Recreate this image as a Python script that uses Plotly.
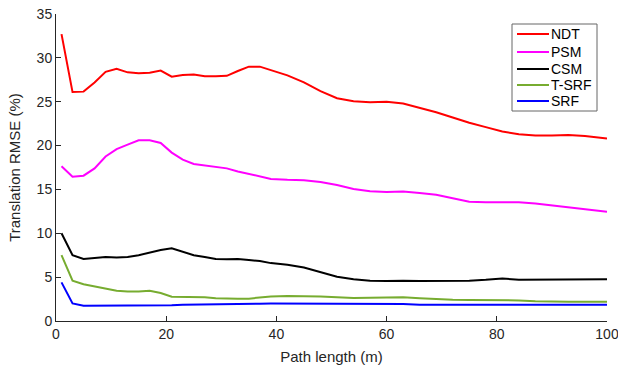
import plotly.graph_objects as go

x = [1, 3, 5, 7, 9, 11, 13, 15, 17, 19, 21, 23, 25, 27, 29, 31, 33, 35, 37, 39,
     42, 45, 48, 51, 54, 57, 60, 63, 66, 69, 72, 75, 78, 81, 84, 87, 90, 93, 96, 100]

ndt = [32.7, 26.1, 26.15, 27.2, 28.4, 28.75, 28.35, 28.25, 28.3, 28.55, 27.85, 28.05, 28.1, 27.9, 27.9, 27.95, 28.5, 29.0, 29.0, 28.6,
       28.0, 27.2, 26.2, 25.4, 25.05, 24.95, 25.0, 24.8, 24.3, 23.8, 23.2, 22.6, 22.1, 21.6, 21.3, 21.15, 21.15, 21.2, 21.1, 20.8]
psm = [17.65, 16.45, 16.57, 17.4, 18.75, 19.6, 20.1, 20.6, 20.6, 20.3, 19.2, 18.4, 17.9, 17.75, 17.55, 17.4, 17.05, 16.75, 16.5, 16.2,
       16.1, 16.05, 15.85, 15.5, 15.05, 14.8, 14.7, 14.75, 14.6, 14.4, 14.0, 13.6, 13.55, 13.55, 13.55, 13.4, 13.2, 12.95, 12.8, 12.45]
csm = [10.0, 7.5, 7.07, 7.15, 7.3, 7.25, 7.3, 7.5, 7.8, 8.1, 8.3, 7.9, 7.5, 7.3, 7.07, 7.05, 7.07, 6.95, 6.84, 6.6,
       6.4, 6.1, 5.6, 5.05, 4.75, 4.6, 4.55, 4.6, 4.55, 4.55, 4.57, 4.6, 4.7, 4.85, 4.7, 4.7, 4.7, 4.72, 4.72, 4.75]
tsrf = [7.5, 4.6, 4.2, 3.95, 3.7, 3.45, 3.35, 3.35, 3.45, 3.2, 2.77, 2.77, 2.77, 2.7, 2.6, 2.55, 2.55, 2.55, 2.65, 2.8,
        2.85, 2.85, 2.8, 2.7, 2.62, 2.65, 2.7, 2.7, 2.6, 2.5, 2.42, 2.4, 2.4, 2.4, 2.35, 2.25, 2.2, 2.2, 2.2, 2.2]
srf = [4.4, 2.0, 1.75, 1.75, 1.75, 1.75, 1.75, 1.75, 1.75, 1.75, 1.8, 1.85, 1.88, 1.9, 1.94, 1.95, 1.96, 1.97, 1.98, 2.0,
       2.0, 2.0, 1.98, 1.96, 1.94, 1.94, 1.94, 1.94, 1.85, 1.82, 1.82, 1.84, 1.85, 1.86, 1.86, 1.86, 1.86, 1.86, 1.86, 1.86]

names = ["NDT", "PSM", "CSM", "T-SRF", "SRF"]
colors = ["#FF0000", "#FF00FF", "#000000", "#77AC30", "#0000FF"]
series = [ndt, psm, csm, tsrf, srf]

W, H = 618, 370
ML, MR, MT, MB = 56, 11, 14, 49
PW, PH = W - ML - MR, H - MT - MB

def px(xp):   # figure pixel x -> paper x
    return (xp - ML) / PW

def py(yp):   # figure pixel y -> paper y
    return (H - MB - yp) / PH

fig = go.Figure()
for n, c, s in zip(names, colors, series):
    fig.add_trace(go.Scatter(x=x, y=s, name=n, mode="lines",
                             line=dict(color=c, width=2), showlegend=False))

axis_common = dict(
    showgrid=False, zeroline=False, showline=True, linecolor="#262626", linewidth=1,
    ticks="inside", ticklen=5, tickcolor="#262626", mirror=False, automargin=False,
    ticklabeloverflow="allow",
    tickfont=dict(family="Liberation Sans, Arial, sans-serif", size=14, color="#262626"),
)

# legend box (drawn manually to match compact MATLAB legend spacing)
bx0, bx1, by0, by1 = 512, 597, 24, 111
shapes = [dict(type="rect", xref="paper", yref="paper",
               x0=px(bx0), x1=px(bx1), y0=py(by1), y1=py(by0),
               line=dict(color="#666666", width=1), fillcolor="white", layer="above")]
annotations = []
row_y = [34, 52, 69, 85, 101]
for n, c, ry in zip(names, colors, row_y):
    shapes.append(dict(type="line", xref="paper", yref="paper",
                       x0=px(517), x1=px(549), y0=py(ry), y1=py(ry),
                       line=dict(color=c, width=2), layer="above"))
    annotations.append(dict(xref="paper", yref="paper", x=px(549), y=py(ry),
                            text=n, showarrow=False, xanchor="left", yanchor="middle",
                            font=dict(family="Liberation Sans, Arial, sans-serif", size=14, color="#000000")))

fig.update_layout(
    width=W, height=H,
    margin=dict(l=ML, r=MR, t=MT, b=MB),
    paper_bgcolor="white", plot_bgcolor="white",
    font=dict(family="Liberation Sans, Arial, sans-serif", size=14, color="#262626"),
    xaxis=dict(range=[0, 100], dtick=20, title=dict(text="Path length (m)", standoff=10,
               font=dict(size=15)), **axis_common),
    yaxis=dict(range=[0, 35], dtick=5, title=dict(text="Translation RMSE (%)", standoff=12,
               font=dict(size=15)), **axis_common),
    shapes=shapes,
    annotations=annotations,
    showlegend=False,
)

fig.write_html("out.html", config={"displayModeBar": False},
               post_script="document.body.style.margin='0';")
